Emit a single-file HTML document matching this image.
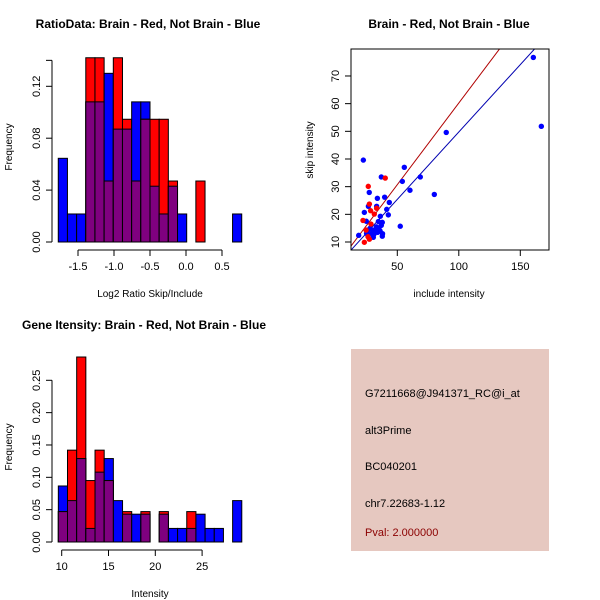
<!DOCTYPE html>
<html><head><meta charset="utf-8"><style>
body{margin:0;background:#fff}
svg{display:block;font-family:"Liberation Sans",sans-serif}
</style></head><body>
<svg id="c" width="600" height="600" xmlns="http://www.w3.org/2000/svg"></svg>
<script>
// ---- Ratio histogram data ----
const ratioBreakStart = -1.774;
const ratioBinWidth = 0.1274;
const ratioRed  = [0,0,0,0.142,0.142,0.047,0.142,0.0946,0.047,0.0946,0.0946,0.0946,0.047,0,0,0.047,0,0,0,0];
const ratioBlue = [0.0645,0.0216,0.0216,0.108,0.108,0.130,0.087,0.087,0.108,0.108,0.043,0.0216,0.043,0.0216,0,0,0,0,0,0.0216];
const ratioXTicks = [-1.5,-1.0,-0.5,0.0,0.5];
const ratioXLabels = ["-1.5","-1.0","-0.5","0.0","0.5"];
const ratioYTicks = [0,0.04,0.08,0.12];
const ratioYLabels = ["0.00","0.04","0.08","0.12"];
// ---- Intensity histogram data ----
const intBreakStart = 9.64;
const intBinWidth = 0.98;
const intRed  = [0.047,0.142,0.286,0.095,0.142,0.095,0,0.047,0,0.047,0,0.047,0,0,0.047,0,0,0,0,0];
const intBlue = [0.0866,0.064,0.129,0.021,0.108,0.129,0.064,0.043,0.043,0.043,0,0.043,0.021,0.021,0.021,0.043,0.021,0.021,0,0.064];
const intXTicks = [10,15,20,25];
const intXLabels = ["10","15","20","25"];
const intYTicks = [0,0.05,0.10,0.15,0.20,0.25];
const intYLabels = ["0.00","0.05","0.10","0.15","0.20","0.25"];
// ---- Scatter data ----
const blueX = [160.6,167.1,89.8,22.4,55.7,37.0,68.7,54.1,60.3,80.1,27.2,52.4,33.8,39.7,43.5,26.5,33.2,41.4,23.2,42.7,36.2,24.8,34.6,37.8,18.6,37.8,30.5,28,30,32,34,36,33,29,31,35,37,38,26,25];
const blueY = [76.7,51.8,49.6,39.6,37.0,33.5,33.5,31.9,28.7,27.2,27.9,15.7,25.8,26.2,24.3,22.9,22.9,21.8,20.7,19.8,19.3,17.5,17.4,17.1,12.4,12.1,11.7,15,14,14.5,13.5,14,15.5,13,12.8,15,16,13,14.3,13.1];
const redX = [40.2,26.4,27.3,28.3,31.3,33.2,22.1,28.6,24.6,26.2,23.2,27.3];
const redY = [33.1,30.1,23.7,21.3,20.1,22.2,17.8,16.5,14.3,11.9,9.9,11.0];
const lineBlue = [1.06,0.487]; // intercept, slope
const lineRed = [1.23,0.59];
const scXTicks = [50,100,150];
const scYTicks = [10,20,30,40,50,60,70];

const svg = document.getElementById('c');
const NS = 'http://www.w3.org/2000/svg';
function mk(tag, attrs, parent){const e=document.createElementNS(NS,tag);for(const k in attrs)e.setAttribute(k,attrs[k]);(parent||svg).appendChild(e);return e;}
function txt(s,x,y,opts,parent){const e=mk('text',Object.assign({x:x,y:y,'font-size':11,'text-anchor':'middle',fill:'#000'},opts||{}),parent);e.textContent=s;return e;}

function hist(cfg){
  const g=mk('g',{});
  
  
  const sx=v=>cfg.x0px+(v-cfg.x0)*cfg.xs;
  const sy=v=>cfg.y0px-v*cfg.ys;
  for(let i=0;i<cfg.red.length;i++){
    const a=sx(cfg.bs+i*cfg.bw), b=sx(cfg.bs+(i+1)*cfg.bw);
    const r=cfg.red[i], bl=cfg.blue[i];
    if(bl>0){const e=mk('rect',{x:a,y:sy(bl),width:b-a,height:sy(0)-sy(bl),fill:'#0000ff',stroke:'#000','stroke-width':1},g);
      }
    if(r>0){const e=mk('rect',{x:a,y:sy(r),width:b-a,height:sy(0)-sy(r),fill:'#ff0000',stroke:'#000','stroke-width':1},g);
      }
    const m=Math.min(r,bl);
    if(m>0){const e=mk('rect',{x:a,y:sy(m),width:b-a,height:sy(0)-sy(m),fill:'#7f007f',stroke:'#000','stroke-width':1},g);
      }
  }
  // y axis
  const ya=mk('g',{},g);
  mk('line',{x1:cfg.yaxX,x2:cfg.yaxX,y1:sy(cfg.yTicks[0]),y2:sy(cfg.yMax),stroke:'#000'},ya);
  cfg.yTicks.forEach((t,i)=>{mk('line',{x1:cfg.yaxX-6,x2:cfg.yaxX,y1:sy(t),y2:sy(t),stroke:'#000'},ya);
    txt(cfg.yLabels[i],0,0,{transform:`translate(${cfg.yaxX-12},${sy(t)}) rotate(-90)`},ya);});
  if(cfg.yMax>cfg.yTicks[cfg.yTicks.length-1]) mk('line',{x1:cfg.yaxX-6,x2:cfg.yaxX,y1:sy(cfg.yMax),y2:sy(cfg.yMax),stroke:'#000'},ya);
  // x axis
  const xa=mk('g',{},g);
  mk('line',{x1:sx(cfg.xTicks[0]),x2:sx(cfg.xTicks[cfg.xTicks.length-1]),y1:cfg.xaxY,y2:cfg.xaxY,stroke:'#000'},xa);
  cfg.xTicks.forEach((t,i)=>{mk('line',{x1:sx(t),x2:sx(t),y1:cfg.xaxY,y2:cfg.xaxY+6,stroke:'#000'},xa);
    txt(cfg.xLabels[i],sx(t),cfg.xaxY+20,{},xa);});
  const t=txt(cfg.title,cfg.titleX,cfg.titleY,{'font-weight':'bold','font-size':12});
  const xl=txt(cfg.xlab,150,cfg.xaxY+47,{'font-size':10});
  const yl=txt('Frequency',0,0,{'font-size':10,transform:`translate(12,${cfg.ylabY}) rotate(-90)`});
}

hist({name:'ratio-histogram',red:ratioRed,blue:ratioBlue,bs:ratioBreakStart,bw:ratioBinWidth,
  x0:0,x0px:186,xs:72,y0px:242,ys:1297.5,yaxX:52,xaxY:250,yTicks:ratioYTicks,yLabels:ratioYLabels,yMax:0.14,
  xTicks:ratioXTicks,xLabels:ratioXLabels,title:'RatioData: Brain - Red, Not Brain - Blue',titleX:148,titleY:28,
  xlab:'Log2 Ratio Skip/Include',ylabY:147});
hist({name:'intensity-histogram',red:intRed,blue:intBlue,bs:intBreakStart,bw:intBinWidth,
  x0:10,x0px:61.7,xs:9.36,y0px:542,ys:646.8,yaxX:52,xaxY:550,yTicks:intYTicks,yLabels:intYLabels,yMax:0.25,
  xTicks:intXTicks,xLabels:intXLabels,title:'Gene Itensity: Brain - Red, Not Brain - Blue',titleX:144,titleY:329,
  xlab:'Intensity',ylabY:447});

// ---- scatter ----
(function(){
  const g=mk('g',{});
  const sx=v=>335.8+v*1.23, sy=v=>242-(v-10)*2.767;
  const L=351,R=549,T=49,B=250;
  const cp=mk('clipPath',{id:'scclip'},g);mk('rect',{x:L,y:T,width:R-L,height:B-T},cp);
  const pg=mk('g',{'clip-path':'url(#scclip)'},g);
  function ln(p,col,name){const x1=(L-335.8)/1.23,x2=(R-335.8)/1.23;
    const e=mk('line',{x1:sx(x1),y1:sy(p[0]+p[1]*x1),x2:sx(x2),y2:sy(p[0]+p[1]*x2),stroke:col,'stroke-width':1},pg);
    }
  ln(lineRed,'#b00000','red-fit-line');ln(lineBlue,'#0000b0','blue-fit-line');
  blueX.forEach((x,i)=>{const e=mk('circle',{cx:sx(x),cy:sy(blueY[i]),r:2.7,fill:'#0000ff'},pg);
    });
  redX.forEach((x,i)=>{const e=mk('circle',{cx:sx(x),cy:sy(redY[i]),r:2.7,fill:'#ff0000'},pg);
    });
  mk('rect',{x:L,y:T,width:R-L,height:B-T,fill:'none',stroke:'#000'},g);
  scXTicks.forEach(t=>{mk('line',{x1:sx(t),x2:sx(t),y1:B,y2:B+6,stroke:'#000'},g);txt(String(t),sx(t),B+20,{},g);});
  scYTicks.forEach(t=>{mk('line',{x1:L-6,x2:L,y1:sy(t),y2:sy(t),stroke:'#000'},g);
    txt(String(t),0,0,{transform:`translate(${L-12},${sy(t)}) rotate(-90)`},g);});
  const t=txt('Brain - Red, Not Brain - Blue',449,28,{'font-weight':'bold','font-size':12});
  const xl=txt('include intensity',449,297,{'font-size':10});
  const yl=txt('skip intensity',0,0,{'font-size':10,transform:'translate(313,150) rotate(-90)'});
})();

// ---- info panel ----
(function(){
  const g=mk('g',{});
  mk('rect',{x:351,y:349,width:198,height:202,fill:'#e6c8c0'},g);
  const lines=[['G7211668@J941371_RC@i_at',397,'#000'],['alt3Prime',434,'#000'],['BC040201',470,'#000'],['chr7.22683-1.12',507,'#000'],['Pval: 2.000000',536,'#8b0000']];
  lines.forEach(l=>{const e=txt(l[0],365,l[1],{'text-anchor':'start','fill':l[2]},g);
    });
})();
</script>
</body></html>
